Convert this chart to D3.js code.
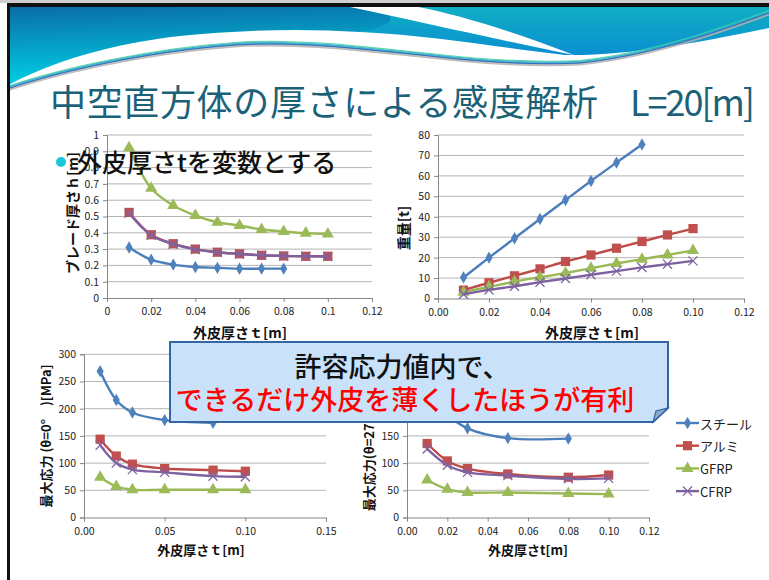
<!DOCTYPE html>
<html>
<head>
<meta charset="utf-8">
<script src="https://cdn.jsdelivr.net/npm/d3@7"></script>
<style>
  body { margin: 0; background: #fff; }
  svg { display: block; }
  text { font-family: "Noto Sans CJK JP", "Noto Sans", sans-serif; }
</style>
</head>
<body>
<div id="container"></div>
<script>
/* DATA */
const materials = ["スチール", "アルミ", "GFRP", "CFRP"];

// top charts: skin thickness t [m]
const tSteel = [0.01, 0.02, 0.03, 0.04, 0.05, 0.06, 0.07, 0.08];
const tOther = [0.01, 0.02, 0.03, 0.04, 0.05, 0.06, 0.07, 0.08, 0.09, 0.10];

// blade thickness h [m]
const bladeSteel = [0.31, 0.235, 0.205, 0.19, 0.185, 0.18, 0.18, 0.18];
const bladeAlu   = [0.525, 0.388, 0.333, 0.30, 0.281, 0.271, 0.262, 0.258, 0.256, 0.256];
const bladeGFRP  = [0.922, 0.673, 0.567, 0.506, 0.465, 0.445, 0.42, 0.408, 0.398, 0.393];
const bladeCFRP  = [0.52, 0.385, 0.33, 0.298, 0.28, 0.27, 0.262, 0.258, 0.256, 0.255];

// weight [t]
const weightSteel = [10.3, 20.0, 29.5, 38.9, 48.2, 57.5, 66.5, 75.4];
const weightAlu   = [4.1, 7.7, 11.1, 14.5, 18.1, 21.3, 24.6, 27.9, 31.1, 34.2];
const weightGFRP  = [3.1, 5.7, 8.3, 10.4, 12.5, 14.8, 17.1, 19.2, 21.3, 23.5];
const weightCFRP  = [2.1, 4.2, 6.0, 8.0, 9.8, 11.6, 13.4, 15.2, 16.8, 18.4];

// bottom charts: max stress [MPa]
const tStressSteel = [0.01, 0.02, 0.03, 0.05, 0.08];
const tStress = [0.01, 0.02, 0.03, 0.05, 0.08, 0.10];

const stress0Steel = [269, 216, 193, 179, 174];
const stress0Alu   = [144, 113, 98, 90, 87, 85];
const stress0GFRP  = [74, 57, 51, 51, 51, 51];
const stress0CFRP  = [133, 100, 88, 83, 76, 75];

const stress270Steel = [245, 190, 164, 146, 145];
const stress270Alu   = [136, 104, 90, 80, 74, 78];
const stress270GFRP  = [69, 52, 46, 46, 44, 43];
const stress270CFRP  = [126, 96, 83, 77, 71, 72];

// tick labels
const ticksT12  = ["0", "0.02", "0.04", "0.06", "0.08", "0.1", "0.12"];
const ticksT12b = ["0.00", "0.02", "0.04", "0.06", "0.08", "0.10", "0.12"];
const ticksT15  = ["0.00", "0.05", "0.10", "0.15"];
const ticksH    = ["0", "0.1", "0.2", "0.3", "0.4", "0.5", "0.6", "0.7", "0.8", "0.9", "1"];
const ticksW    = ["0", "10", "20", "30", "40", "50", "60", "70", "80"];
const ticksS    = ["0", "50", "100", "150", "200", "250", "300"];

/* CONSTANTS */
const width = 769, height = 580;
const lineColors = ["#4a7ebb", "#be4b48", "#98b954", "#7d60a0"];
const markColors = ["#4f81bd", "#c0504d", "#9bbb59", "#8064a2"];

const svg = d3.select("#container")
  .append("svg")
  .attr("width", width)
  .attr("height", height);

const defs = svg.append("defs");
const g1 = defs.append("linearGradient").attr("id", "waveL")
  .attr("x1", 0).attr("y1", 0).attr("x2", 0.15).attr("y2", 1);
g1.append("stop").attr("offset", "0%").attr("stop-color", "#0a6ea6");
g1.append("stop").attr("offset", "100%").attr("stop-color", "#00d2e6");
const g2 = defs.append("linearGradient").attr("id", "waveR")
  .attr("x1", 0).attr("y1", 0).attr("x2", 0).attr("y2", 1);
g2.append("stop").attr("offset", "0%").attr("stop-color", "#10aec4");
g2.append("stop").attr("offset", "100%").attr("stop-color", "#0a8fd2");

/* HEADER WAVE */
svg.append("path")
  .attr("d", "M7,7 H420 V20 C400,26 380,30 360,32 C300,28 240,30 180,36 C110,44 50,62 7,86 Z")
  .attr("fill", "url(#waveL)");
svg.append("path")
  .attr("d", "M380,7 H769 V28 C700,42 630,56 565,55 C500,48 440,36 360,32 C390,26 400,20 380,7 Z")
  .attr("fill", "url(#waveR)");
// white swoosh
svg.append("path")
  .attr("d", "M350,7 C420,22 500,40 574,55 C510,30 455,14 418,7 Z")
  .attr("fill", "#fff");

const waveLine = "M7,88 C60,70 150,50 235,44 C300,40 360,48 430,55 C490,62 540,64 580,62 C650,55 720,30 769,12";
[["#b0b0b0", 3, 2], ["#2aa6c8", 2.5, 0], ["#3fd0a8", 1.2, -1.5], ["#2f62c0", 1, 1]].forEach(([c, w, dy]) => {
  svg.append("path")
    .attr("d", waveLine)
    .attr("transform", `translate(0,${dy})`)
    .attr("fill", "none")
    .attr("stroke", c)
    .attr("stroke-width", w)
    .attr("opacity", 0.85);
});

// frame
svg.append("rect").attr("x", 0).attr("y", 0).attr("width", width).attr("height", 3).attr("fill", "#cfcfcf");
svg.append("rect").attr("x", 7).attr("y", 3).attr("width", width - 7).attr("height", 4).attr("fill", "#111");
svg.append("rect").attr("x", 7).attr("y", 3).attr("width", 3).attr("height", height).attr("fill", "#111");

/* TITLE */
svg.append("text")
  .attr("x", 50).attr("y", 116)
  .attr("fill", "#1b6278")
  .attr("font-size", 36)
  .attr("textLength", 548)
  .text("中空直方体の厚さによる感度解析");
svg.append("text")
  .attr("x", 630).attr("y", 116)
  .attr("fill", "#1b6278")
  .attr("font-size", 36)
  .attr("textLength", 125)
  .text("L=20[m]");

/* CHART HELPER */
const markerShapes = [
  d3.symbol().type(d3.symbolDiamond).size(44),
  d3.symbol().type(d3.symbolSquare).size(85),
  d3.symbol().type(d3.symbolTriangle).size(64),
  d3.symbol().type(d3.symbolX || d3.symbolCross).size(55)
];

function drawChart(cfg) {
  const x = d3.scaleLinear().domain(cfg.xDomain).range(cfg.xRange);
  const y = d3.scaleLinear().domain(cfg.yDomain).range(cfg.yRange);
  const g = svg.append("g");

  // grid
  const yVals = cfg.yTicks.map(Number);
  g.selectAll("line.grid")
    .data(yVals.filter(v => v !== 0))
    .join("line")
    .attr("class", "grid")
    .attr("x1", cfg.xRange[0]).attr("x2", cfg.xRange[1])
    .attr("y1", d => y(d)).attr("y2", d => y(d))
    .attr("stroke", "#b4b4b4").attr("stroke-width", 1);

  // axes
  const yAxis = d3.axisLeft(y)
    .tickValues(yVals)
    .tickFormat((d, i) => cfg.yTicks[i])
    .tickSize(4).tickPadding(4);
  const xVals = cfg.xTicks.map(Number);
  const xAxis = d3.axisBottom(x)
    .tickValues(xVals)
    .tickFormat((d, i) => cfg.xTicks[i])
    .tickSize(4).tickPadding(6);

  const ya = g.append("g").attr("transform", `translate(${cfg.xRange[0]},0)`).call(yAxis);
  const xa = g.append("g").attr("transform", `translate(0,${cfg.yRange[0]})`).call(xAxis);
  [ya, xa].forEach(a => {
    a.select(".domain").attr("stroke", "#868686");
    a.selectAll(".tick line").attr("stroke", "#868686");
    a.selectAll(".tick text")
      .attr("font-family", "Liberation Sans, sans-serif")
      .attr("font-size", 10.5)
      .attr("fill", "#222");
  });

  // axis titles
  g.append("text")
    .attr("x", cfg.xTitlePos[0]).attr("y", cfg.xTitlePos[1])
    .attr("text-anchor", "middle")
    .attr("font-size", cfg.titleSize)
    .attr("font-weight", "bold")
    .attr("fill", "#111")
    .text(cfg.xTitle);
  g.append("text")
    .attr("transform", `translate(${cfg.yTitlePos[0]},${cfg.yTitlePos[1]}) rotate(-90)`)
    .attr("text-anchor", "middle")
    .attr("dominant-baseline", "central")
    .attr("font-size", cfg.titleSize)
    .attr("font-weight", "bold")
    .attr("fill", "#111")
    .text(cfg.yTitle);

  // series
  const line = d3.line()
    .x(d => x(d[0]))
    .y(d => y(d[1]))
    .curve(d3.curveCatmullRom.alpha(0.5));

  cfg.series.forEach((s, i) => {
    const pts = s.xs.map((v, j) => [v, s.ys[j]]);
    g.append("path")
      .datum(pts)
      .attr("d", line)
      .attr("fill", "none")
      .attr("stroke", lineColors[i])
      .attr("stroke-width", 2.4);
    g.selectAll(`path.mk${i}`)
      .data(pts)
      .join("path")
      .attr("class", `mk${i}`)
      .attr("transform", d => `translate(${x(d[0])},${y(d[1])})`)
      .attr("d", markerShapes[i])
      .attr("fill", i === 3 ? "none" : markColors[i])
      .attr("stroke", i === 3 ? markColors[i] : "none")
      .attr("stroke-width", 1.3);
  });
}

/* TOP LEFT: blade thickness */
drawChart({
  xDomain: [0, 0.12], xRange: [107, 372],
  yDomain: [0, 1], yRange: [298, 135],
  xTicks: ticksT12, yTicks: ticksH,
  xTitle: "外皮厚さｔ[m]", xTitlePos: [240, 338],
  yTitle: "ブレード厚さｈ[m]", yTitlePos: [72, 213],
  titleSize: 14,
  series: [
    { xs: tSteel, ys: bladeSteel },
    { xs: tOther, ys: bladeAlu },
    { xs: tOther, ys: bladeGFRP },
    { xs: tOther, ys: bladeCFRP }
  ]
});

/* TOP RIGHT: weight */
drawChart({
  xDomain: [0, 0.12], xRange: [438, 744],
  yDomain: [0, 80], yRange: [298.5, 135],
  xTicks: ticksT12b, yTicks: ticksW,
  xTitle: "外皮厚さｔ[m]", xTitlePos: [592, 338],
  yTitle: "重量[t]", yTitlePos: [403, 228],
  titleSize: 14,
  series: [
    { xs: tSteel, ys: weightSteel },
    { xs: tOther, ys: weightAlu },
    { xs: tOther, ys: weightGFRP },
    { xs: tOther, ys: weightCFRP }
  ]
});

/* BOTTOM LEFT: stress theta = 0 */
drawChart({
  xDomain: [0, 0.15], xRange: [84, 326],
  yDomain: [0, 300], yRange: [517.5, 354.3],
  xTicks: ticksT15, yTicks: ticksS,
  xTitle: "外皮厚さｔ[m]", xTitlePos: [201, 555],
  yTitle: "最大応力 (θ=0°　)[MPa]", yTitlePos: [45, 436],
  titleSize: 13,
  series: [
    { xs: tStressSteel, ys: stress0Steel },
    { xs: tStress, ys: stress0Alu },
    { xs: tStress, ys: stress0GFRP },
    { xs: tStress, ys: stress0CFRP }
  ]
});

/* BOTTOM RIGHT: stress theta = 270 */
drawChart({
  xDomain: [0, 0.12], xRange: [407, 649],
  yDomain: [0, 300], yRange: [517.5, 354.3],
  xTicks: ticksT12b, yTicks: ticksS,
  xTitle: "外皮厚さt[m]", xTitlePos: [528, 555],
  yTitle: "最大応力(θ=270°)[MPa]", yTitlePos: [368, 440],
  titleSize: 13,
  series: [
    { xs: tStressSteel, ys: stress270Steel },
    { xs: tStress, ys: stress270Alu },
    { xs: tStress, ys: stress270GFRP },
    { xs: tStress, ys: stress270CFRP }
  ]
});

/* LEGEND */
const legend = svg.append("g").attr("transform", "translate(676,423)");
materials.forEach((m, i) => {
  const row = legend.append("g").attr("transform", `translate(0,${i * 22.7})`);
  row.append("line").attr("x1", 0).attr("x2", 23).attr("y1", 0).attr("y2", 0)
    .attr("stroke", lineColors[i]).attr("stroke-width", 2.4);
  row.append("path").attr("transform", "translate(11.5,0)")
    .attr("d", markerShapes[i])
    .attr("fill", i === 3 ? "none" : markColors[i])
    .attr("stroke", i === 3 ? markColors[i] : "none")
    .attr("stroke-width", 1.3);
  row.append("text").attr("x", 24).attr("y", 0)
    .attr("dominant-baseline", "central")
    .attr("font-size", 13)
    .attr("fill", "#222")
    .text(m);
});

/* BULLET */
svg.append("circle").attr("cx", 61).attr("cy", 162).attr("r", 5).attr("fill", "#14c8d8");
svg.append("text")
  .attr("x", 77).attr("y", 172)
  .attr("font-size", 25)
  .attr("font-weight", 500)
  .attr("fill", "#111")
  .text("外皮厚さtを変数とする");

/* CALLOUT */
const callout = svg.append("g");
callout.append("path")
  .attr("d", "M170,342 H668 V408 L653,422 H170 Z")
  .attr("fill", "#c9e2f9")
  .attr("stroke", "#3466a6")
  .attr("stroke-width", 2);
callout.append("path")
  .attr("d", "M653,422 L668,408 L656,411 Z")
  .attr("fill", "#8eaad0")
  .attr("stroke", "#3466a6")
  .attr("stroke-width", 1.2);
callout.append("text")
  .attr("x", 402).attr("y", 377)
  .attr("text-anchor", "middle")
  .attr("font-size", 27)
  .attr("font-weight", 500)
  .attr("fill", "#111")
  .text("許容応力値内で、");
callout.append("text")
  .attr("x", 405).attr("y", 410)
  .attr("text-anchor", "middle")
  .attr("font-size", 27)
  .attr("font-weight", 500)
  .attr("fill", "#ff0000")
  .text("できるだけ外皮を薄くしたほうが有利");
</script>
</body>
</html>
